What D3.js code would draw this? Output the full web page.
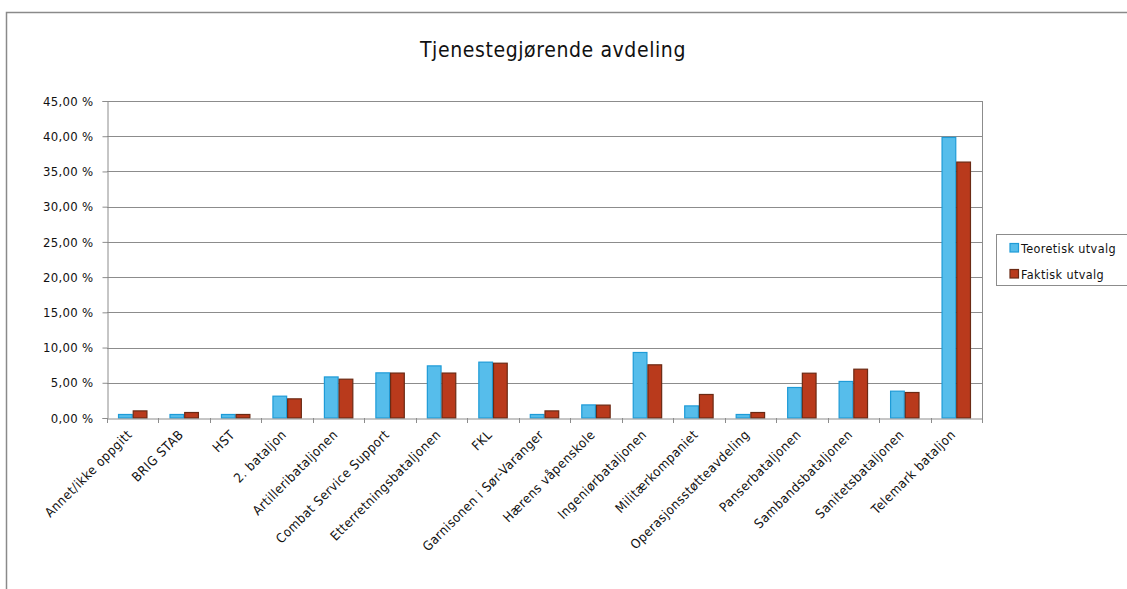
<!DOCTYPE html>
<html>
<head>
<meta charset="utf-8">
<script src="https://cdn.jsdelivr.net/npm/d3@7/dist/d3.min.js"></script>
<style>
  html, body { margin: 0; padding: 0; background: #fff; }
  svg { display: block; }
  text { font-family: "DejaVu Sans Condensed", "DejaVu Sans", sans-serif; fill: #111; }
</style>
</head>
<body>
<svg id="chart" width="1127" height="589"></svg>
<script>
const title = "Tjenestegjørende avdeling";
const categories = [
  "Annet/ikke oppgitt", "BRIG STAB", "HST", "2. bataljon", "Artilleribataljonen",
  "Combat Service Support", "Etterretningsbataljonen", "FKL", "Garnisonen i Sør-Varanger",
  "Hærens våpenskole", "Ingeniørbataljonen", "Militærkompaniet", "Operasjonsstøtteavdeling",
  "Panserbataljonen", "Sambandsbataljonen", "Sanitetsbataljonen", "Telemark bataljon"
];
const seriesNames = ["Teoretisk utvalg", "Faktisk utvalg"];
const teoretisk = [0.57, 0.57, 0.57, 3.17, 5.9, 6.48, 7.47, 8.0, 0.57, 1.93, 9.37, 1.79, 0.57, 4.4, 5.26, 3.88, 39.9];
const faktisk   = [1.08, 0.85, 0.57, 2.79, 5.58, 6.45, 6.45, 7.85, 1.08, 1.9, 7.62, 3.41, 0.85, 6.43, 7.0, 3.69, 36.4];
const yTicks = [0, 5, 10, 15, 20, 25, 30, 35, 40, 45];

const fills = ["#56bdeb", "#b93a1c"];
const strokes = ["#1e9bd7", "#6b2a14"];

const svg = d3.select("#chart");

// outer chart border
svg.append("rect").attr("x", 6.5).attr("y", 12.5).attr("width", 1130).attr("height", 600)
  .attr("fill", "none").attr("stroke", "#8a8a8a").attr("stroke-width", 1.5);

const plot = { left: 107, right: 982, top: 101, bottom: 418 };

const y = d3.scaleLinear().domain([0, 45]).range([plot.bottom, plot.top]);
const x = d3.scaleBand().domain(categories).range([plot.left, plot.right]).paddingInner(0).paddingOuter(0);
const step = x.bandwidth();
const barW = step / 3.5;
const xs = d3.scaleBand().domain(seriesNames).range([(step - 2 * barW) / 2, (step + 2 * barW) / 2]);

// gridlines
svg.append("g").selectAll("line").data(yTicks.filter(d => d > 0)).join("line")
  .attr("x1", plot.left).attr("x2", plot.right)
  .attr("y1", d => Math.round(y(d)) + 0.5).attr("y2", d => Math.round(y(d)) + 0.5)
  .attr("stroke", "#8c8c8c").attr("stroke-width", 1);

// right border of plot area
svg.append("line").attr("x1", plot.right + 0.5).attr("x2", plot.right + 0.5)
  .attr("y1", plot.top).attr("y2", plot.bottom).attr("stroke", "#8c8c8c");

// bars
const data = categories.map((c, i) => ({ c, vals: [teoretisk[i], faktisk[i]] }));
const groups = svg.append("g").selectAll("g").data(data).join("g")
  .attr("transform", d => `translate(${x(d.c)},0)`);
groups.selectAll("rect").data(d => d.vals.map((v, k) => ({ v, k }))).join("rect")
  .attr("x", d => xs(seriesNames[d.k]) + 0.5)
  .attr("width", barW - 1)
  .attr("y", d => y(d.v) + 0.5)
  .attr("height", d => Math.max(0, y(0) - y(d.v) - 0.5))
  .attr("fill", d => fills[d.k])
  .attr("stroke", d => strokes[d.k])
  .attr("stroke-width", 1.2);

// y axis
const yAxis = d3.axisLeft(y).tickValues(yTicks).tickSize(5).tickPadding(10)
  .tickFormat(d => d3.format(".2f")(d).replace(".", ",") + " %");
const gy = svg.append("g").attr("transform", `translate(${plot.left + 0.5},0)`).call(yAxis);
gy.attr("font-family", null).attr("font-size", null);
gy.select(".domain").attr("stroke", "#8c8c8c");
gy.selectAll(".tick line").attr("stroke", "#8c8c8c");
gy.selectAll(".tick text").attr("font-size", 13).style("letter-spacing", "0.3px")
  .attr("fill", "#111").attr("x", -14);

// x axis
const xAxis = d3.axisBottom(x).tickSize(0).tickFormat(d => d);
const gx = svg.append("g").attr("transform", `translate(0,${plot.bottom + 0.5})`).call(xAxis);
gx.attr("font-family", null).attr("font-size", null);
gx.select(".domain").attr("stroke", "#8c8c8c");
gx.selectAll(".tick text")
  .attr("font-size", 13).attr("fill", "#111").style("letter-spacing", "0.5px")
  .attr("text-anchor", "end")
  .attr("dy", null).attr("y", null)
  .attr("transform", "translate(0,17) rotate(-45)");
// boundary ticks
const bounds = d3.range(categories.length + 1).map(i => plot.left + i * step);
svg.append("g").selectAll("line").data(bounds).join("line")
  .attr("x1", d => Math.round(d) + 0.5).attr("x2", d => Math.round(d) + 0.5)
  .attr("y1", plot.bottom).attr("y2", plot.bottom + 5)
  .attr("stroke", "#8c8c8c");

// title
svg.append("text").attr("x", 553).attr("y", 57).attr("text-anchor", "middle")
  .attr("font-size", 21).style("letter-spacing", "0.6px").text(title);

// legend
const lg = svg.append("g");
lg.append("rect").attr("x", 996.5).attr("y", 234.5).attr("width", 140).attr("height", 51)
  .attr("fill", "#fff").attr("stroke", "#8c8c8c");
seriesNames.forEach((s, k) => {
  const cy = 248 + k * 26;
  lg.append("rect").attr("x", 1010).attr("y", cy - 4.5).attr("width", 8.5).attr("height", 8.5)
    .attr("fill", fills[k]).attr("stroke", strokes[k]).attr("stroke-width", 1.2);
  lg.append("text").attr("x", 1021).attr("y", cy + 4.5).attr("font-size", 12.5)
    .style("letter-spacing", "0.4px").text(s);
});
</script>
</body>
</html>
